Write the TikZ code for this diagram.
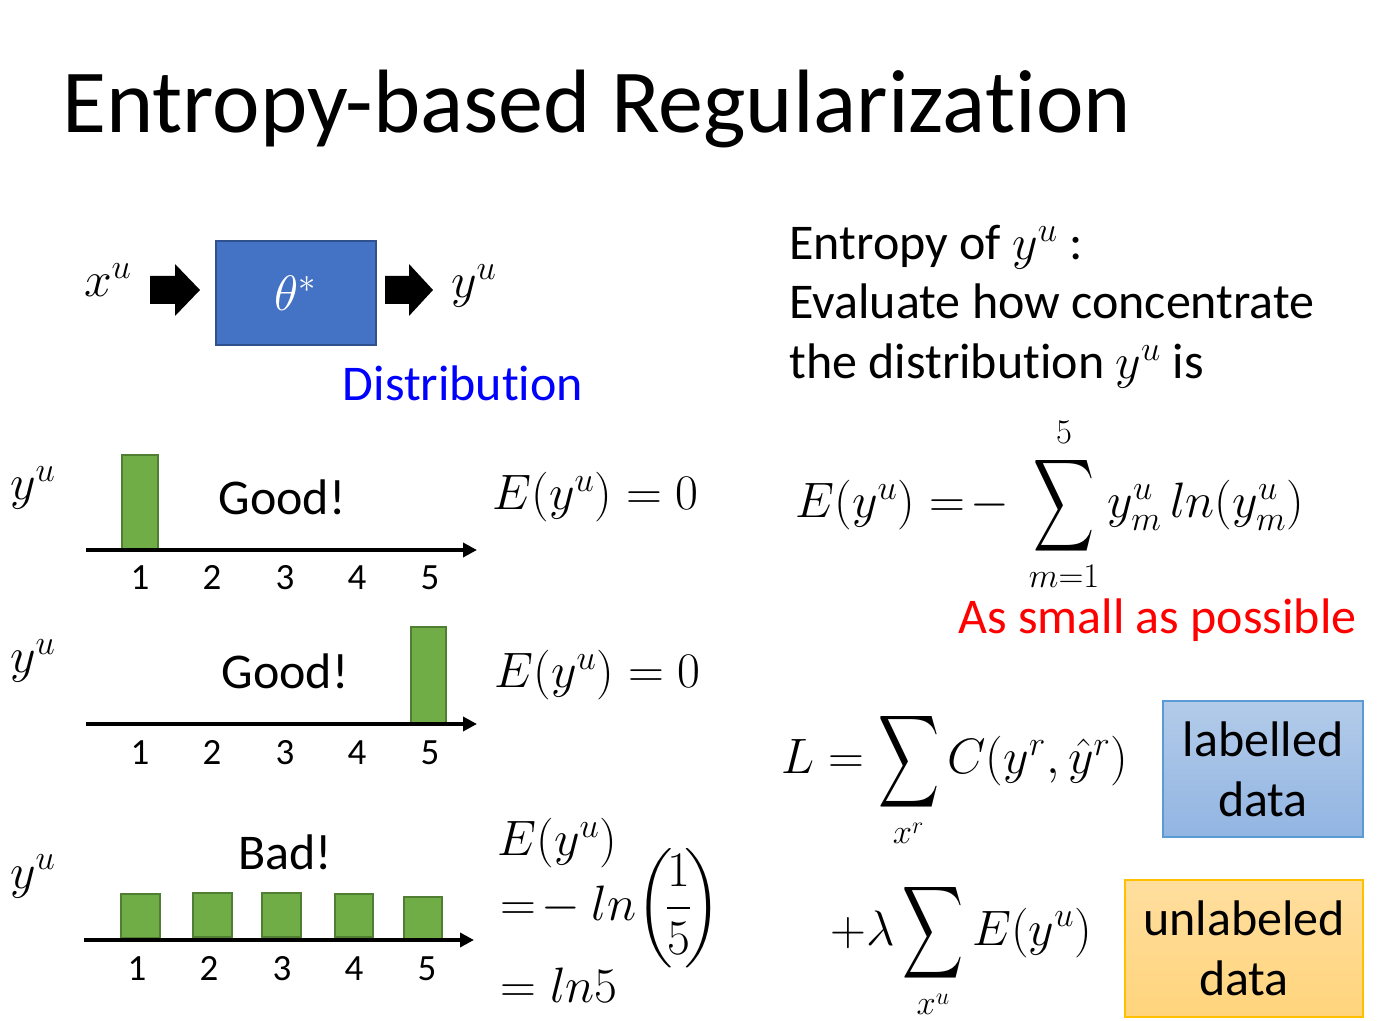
\documentclass[tikz,border=0pt]{standalone}
\usepackage{amsmath}
\usepackage{exscale}
\usepackage{fontspec}
\setmainfont{Carlito}[Ligatures=NoCommon]
\usetikzlibrary{arrows.meta}
\definecolor{thetafill}{HTML}{4472C4}
\definecolor{thetaborder}{HTML}{2F528F}
\definecolor{barfill}{HTML}{70AD47}
\definecolor{barline}{HTML}{507E32}
\definecolor{distblue}{HTML}{0000FF}
\definecolor{smallred}{HTML}{FF0000}
\definecolor{labtop}{HTML}{B3CBE9}
\definecolor{labbot}{HTML}{92B5E2}
\definecolor{labborder}{HTML}{5B9BD5}
\definecolor{unltop}{HTML}{FFDE9E}
\definecolor{unlbot}{HTML}{FFD47C}
\definecolor{unlborder}{HTML}{FFC000}
\newcommand{\bigsum}{\mathop{\vcenter{\hbox{\scalebox{0.85}[1.3]{$\displaystyle\sum$}}}}\limits}
\begin{document}
\begin{tikzpicture}[x=0.5pt,y=-0.5pt,
  txt/.style={font=\fontsize{25}{30}\selectfont, inner sep=0pt},
  mth/.style={font=\fontsize{25}{30}\selectfont, inner sep=0pt},
  num/.style={font=\fontsize{18.5}{22}\selectfont, inner sep=0pt},
  bar/.style={fill=barfill, draw=barline, line width=0.8pt},
  axisline/.style={line width=2pt, -{Triangle[length=7pt,width=7pt]}},
  databox/.style={line width=1pt, font=\fontsize{25}{30}\selectfont, align=center, inner sep=0pt}]
\useasboundingbox (0,0) rectangle (1383,1021);

% title
\node[anchor=base west, font=\fontsize{45}{53}\selectfont, inner sep=0pt] (title) at (62,133) {Entropy-based Regularization};

% network diagram
\node[mth, anchor=base] (xu) at (108,297) {$x^u$};
\node[draw=thetaborder, fill=thetafill, line width=1pt, minimum width=80pt, minimum height=52pt, inner sep=0pt, mth, text=white] (theta) at (296,293) {$\theta^*$};
\node[mth, anchor=base] (yu) at (474,298) {$y^u$};
\coordinate (arrA) at (150,290);
\coordinate (arrB) at (385,290);
\fill (arrA) ++(0,-14) -- ++(25,0) -- ++(0,-12) -- ++(25,26) -- ++(-25,26) -- ++(0,-12) -- ++(-25,0) -- cycle;
\fill (arrB) ++(0,-14) -- ++(24,0) -- ++(0,-12) -- ++(24,26) -- ++(-24,26) -- ++(0,-12) -- ++(-24,0) -- cycle;
\node[txt, text=distblue, anchor=base] (dist) at (463,401) {Distribution};

% right text
\node[txt, anchor=base west] (t1) at (789,260) {Entropy of $y^u$ :};
\node[txt, anchor=base west] (t2) at (789,319) {Evaluate how concentrate};
\node[txt, anchor=base west] (t3) at (789,379) {the distribution $y^u$ is};
\node[mth, anchor=base west] (ent) at (795,518) {$E(y^u) =\!-\ \bigsum_{m=1}^{5} y^u_m\, ln(y^u_m)$};
\node[txt, text=smallred, anchor=base west] (small) at (958,634) {As small as possible};

% row 1
\node[mth, anchor=base] (ya) at (33,500) {$y^u$};
\draw[bar] (122,455) rectangle (158,550);
\coordinate (a1s) at (86,550);
\coordinate (a1e) at (477,550);
\draw[axisline] (a1s) -- (a1e);
\foreach \i/\x in {1/140,2/212,3/285,4/357,5/430} \node[num, anchor=base] (n1\i) at (\x,590) {\i};
\node[txt] (good1) at (282,497) {Good!};
\node[mth, anchor=base west] (e1) at (492,510) {$E(y^u) = 0$};

% row 2
\node[mth, anchor=base] (yb) at (33,673) {$y^u$};
\draw[bar] (411,627) rectangle (446,724);
\coordinate (a2s) at (86,724);
\coordinate (a2e) at (477,724);
\draw[axisline] (a2s) -- (a2e);
\foreach \i/\x in {1/140,2/212,3/285,4/357,5/430} \node[num, anchor=base] (n2\i) at (\x,764) {\i};
\node[txt] (good2) at (285,671) {Good!};
\node[mth, anchor=base west] (e2) at (494,688) {$E(y^u) = 0$};

% row 3
\node[mth, anchor=base] (yc) at (33,888) {$y^u$};
\draw[bar] (121,894) rectangle (160,938);
\draw[bar] (193,893) rectangle (232,937);
\draw[bar] (262,893) rectangle (301,937);
\draw[bar] (335,894) rectangle (373,937);
\draw[bar] (404,897) rectangle (442,939);
\coordinate (a3s) at (84,940);
\coordinate (a3e) at (474,940);
\draw[axisline] (a3s) -- (a3e);
\foreach \i/\x in {1/137,2/209,3/282,4/354,5/427} \node[num, anchor=base] (n3\i) at (\x,980) {\i};
\node[txt] (bad) at (285,852) {Bad!};
\node[mth, anchor=base west] (e3a) at (497,856) {$E(y^u)$};
\node[mth, anchor=west] (e3b) at (500,908) {$=\!-\ ln\!\left(\!\dfrac{1}{5}\!\right)$};
\node[mth, anchor=base west] (e3c) at (500,1002) {$= ln5$};

% loss
\node[mth, anchor=base west] (Lf) at (781,774) {$L = \bigsum_{x^r} C(y^r,\hat{y}^r)$};
\node[mth, anchor=base west] (lam) at (830,945) {$+\lambda \bigsum_{x^u} E(y^u)$};
\node[databox, draw=labborder, top color=labtop, bottom color=labbot, minimum width=100pt, minimum height=68pt] (lab) at (1263,769) {labelled\\data};
\node[databox, draw=unlborder, top color=unltop, bottom color=unlbot, minimum width=119pt, minimum height=68.5pt] (unl) at (1244,948.5) {unlabeled\\data};
\end{tikzpicture}
\end{document}
